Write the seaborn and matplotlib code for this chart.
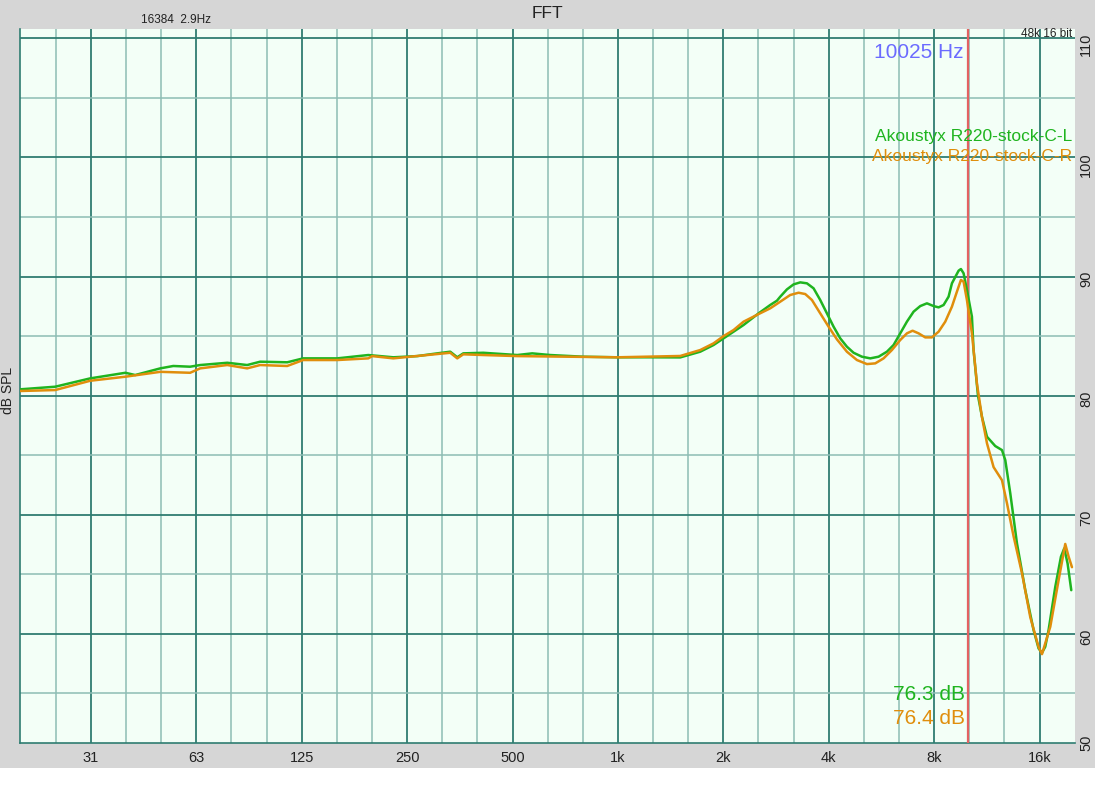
import matplotlib
matplotlib.use("Agg")
import matplotlib.pyplot as plt
import matplotlib.transforms as mtransforms
from matplotlib.patches import Rectangle
from matplotlib.ticker import FixedLocator, NullFormatter
import seaborn as sns
import pandas as pd

# Akoustyx R220 - canal esquerdo (verde)
left_hz = [19.6, 24.7, 31.1, 39.2, 41.8, 49.3, 53.7, 60.0, 64.1, 76.6,
           87.3, 95.1, 113.6, 126.2, 157.9, 193.6, 228.2, 267.1, 304.8, 331.9,
           347.6, 361.6, 412.3, 515.7, 569.1, 640.6, 795.9, 995.4, 1237, 1506,
           1718, 1875, 2003, 2139, 2284, 2522, 2722, 2845, 2908, 3038,
           3174, 3316, 3465, 3620, 3782, 3952, 4129, 4314, 4507, 4710,
           4975, 5256, 5552, 5864, 6126, 6401, 6688, 6988, 7301, 7629,
           7970, 8237, 8512, 8797, 8992, 9395, 9540, 9709, 9924, 10256,
           10367, 10672, 10955, 11323, 11956, 12497, 12771, 13198, 13791, 14566,
           15384, 15898, 16257, 16610, 16978, 17743, 18418, 18822, 19237, 19710]
left_db = [80.53, 80.75, 81.45, 81.92, 81.73, 82.29, 82.49, 82.43, 82.57, 82.76,
           82.57, 82.85, 82.80, 83.13, 83.13, 83.41, 83.22, 83.32, 83.55, 83.69,
           83.22, 83.55, 83.60, 83.41, 83.55, 83.41, 83.27, 83.22, 83.22, 83.21,
           83.69, 84.25, 84.81, 85.37, 85.93, 86.91, 87.61, 87.97, 88.31, 88.92,
           89.34, 89.51, 89.43, 89.01, 88.03, 86.91, 85.79, 84.81, 84.11, 83.60,
           83.27, 83.13, 83.27, 83.69, 84.25, 85.23, 86.21, 87.05, 87.52, 87.75,
           87.52, 87.41, 87.61, 88.31, 89.43, 90.49, 90.63, 90.27, 88.87, 86.63,
           83.83, 80.00, 78.23, 76.55, 75.77, 75.43, 74.59, 71.80, 67.60, 63.67,
           60.32, 58.78, 58.41, 58.92, 60.32, 63.95, 66.48, 67.18, 65.92, 63.67]

# canal direito (laranja)
right_hz = [19.6, 24.7, 31.1, 39.2, 49.3, 60.0, 64.1, 76.6, 87.3, 95.1,
            113.6, 126.2, 157.9, 193.6, 198.7, 228.2, 331.9, 347.6, 361.6, 412.3,
            515.7, 995.4, 1506, 1718, 1875, 2003, 2139, 2284, 2522, 2722,
            2908, 3105, 3280, 3427, 3581, 3782, 3996, 4220, 4507, 4814,
            5142, 5431, 5737, 6060, 6401, 6688, 6942, 7222, 7546, 7883,
            8237, 8606, 8992, 9292, 9540, 9709, 9924, 10256, 10601, 10955,
            11323, 11826, 12497, 12916, 13486, 14252, 15054, 15898, 16257, 17170,
            18132, 18946, 19362, 19801]
right_db = [80.39, 80.47, 81.25, 81.59, 82.00, 81.92, 82.29, 82.57, 82.29, 82.57,
            82.49, 82.99, 82.99, 83.13, 83.32, 83.13, 83.60, 83.13, 83.47, 83.41,
            83.32, 83.22, 83.33, 83.83, 84.39, 85.00, 85.51, 86.21, 86.85, 87.33,
            87.89, 88.45, 88.64, 88.53, 88.03, 86.91, 85.79, 84.73, 83.69, 82.99,
            82.65, 82.71, 83.13, 83.83, 84.67, 85.23, 85.45, 85.23, 84.89, 84.89,
            85.37, 86.21, 87.47, 88.73, 89.71, 89.57, 88.03, 85.23, 81.00, 78.20,
            76.00, 74.00, 72.90, 70.96, 68.20, 65.10, 61.40, 58.90, 58.30, 60.60,
            64.50, 67.55, 66.50, 65.60]

series_names = ["Akoustyx R220-stock-C-L", "Akoustyx R220-stock-C-R"]
level_labels = ["76.3 dB", "76.4 dB"]
cursor_hz = 10025

x_ticks = [31.25, 62.5, 125, 250, 500, 1000, 2000, 4000, 8000, 16000]
x_tick_labels = ["31", "63", "125", "250", "500", "1k", "2k", "4k", "8k", "16k"]
x_third_oct = [1000 * 2 ** (k / 3) for k in range(-16, 13) if k % 3 != 0]
y_ticks = [60, 70, 80, 90, 100, 110]
y_minor = [55, 65, 75, 85, 95, 105]

green = "#1fb41f"
orange = "#e08e0c"
grid_dark = "#2f7d71"
grid_light = "#8dbdb4"

sns.set_style("white")
plt.rcParams["font.family"] = ["Liberation Sans", "DejaVu Sans"]

W, H = 1095, 800
fig = plt.figure(figsize=(W / 100, H / 100), dpi=100)
fig.patch.set_facecolor("white")
fig.add_artist(Rectangle((0, 32 / H), 1, 1 - 32 / H, transform=fig.transFigure,
                         facecolor="#d6d6d6", edgecolor="none", zorder=-10))


def px(x, y):
    return x / W, 1 - y / H


ax = fig.add_axes([20 / W, 57 / H, 1055 / W, 714 / H])
ax.set_facecolor("#f3fff7")

df_l = pd.DataFrame({"Hz": left_hz, "dB": left_db})
df_r = pd.DataFrame({"Hz": right_hz, "dB": right_db})
sns.lineplot(data=df_l, x="Hz", y="dB", color=green, lw=1.8, ax=ax,
             estimator=None, sort=False, zorder=5, solid_joinstyle="round")
sns.lineplot(data=df_r, x="Hz", y="dB", color=orange, lw=1.8, ax=ax,
             estimator=None, sort=False, zorder=6, solid_joinstyle="round")

ax.set_xscale("log")
ax.set_xlim(19.6, 20200)
ax.set_ylim(50.84, 110.78)

# grade: oitavas e 10 dB escuras, terços e 5 dB claras
ax.xaxis.set_major_locator(FixedLocator(x_ticks))
ax.set_xticklabels(x_tick_labels)
ax.xaxis.set_minor_locator(FixedLocator(x_third_oct))
ax.xaxis.set_minor_formatter(NullFormatter())
ax.yaxis.set_major_locator(FixedLocator(y_ticks))
ax.yaxis.set_minor_locator(FixedLocator(y_minor))
ax.grid(which="major", color=grid_dark, lw=1.3, zorder=1)
ax.grid(which="minor", color=grid_light, lw=1.1, zorder=1)
ax.set_axisbelow(True)

ax.set_xlabel("")
ax.set_ylabel("")
ax.tick_params(axis="x", which="both", length=0, pad=6, labelsize=10.5, colors="#222222")
ax.tick_params(axis="y", which="both", length=0, pad=3, labelsize=10.5, colors="#222222",
               left=False, labelleft=False, labelright=True, labelrotation=90)
for side in ["left", "bottom"]:
    ax.spines[side].set_color(grid_dark)
    ax.spines[side].set_linewidth(1.2)
ax.spines["top"].set_visible(False)
ax.spines["right"].set_visible(False)

# "50" fica no limite inferior
off = mtransforms.offset_copy(ax.transAxes, fig=fig, x=3, y=0, units="points")
ax.text(1.0, 0.0, "50", transform=off, rotation=90, ha="left", va="center",
        fontsize=10.5, color="#222222")

# cursor
ax.axvline(cursor_hz, color="#e36262", lw=1.6, zorder=4)

# textos
fig.text(*px(547, 14), "FFT", ha="center", va="center", fontsize=12.5, color="#222222")
fig.text(*px(176, 20), "16384  2.9Hz", ha="center", va="center", fontsize=8.5, color="#222222")
fig.text(*px(1072, 34), "48k 16 bit", ha="right", va="center", fontsize=8.5, color="#222222")
fig.text(*px(8, 390), "dB SPL", ha="center", va="center", rotation=90, fontsize=10, color="#222222")
fig.text(*px(964, 52), f"{cursor_hz} Hz", ha="right", va="center", fontsize=15, color="#6b6bff")
fig.text(*px(1072, 137), series_names[0], ha="right", va="center", fontsize=12.5, color=green)
fig.text(*px(1072, 156), series_names[1], ha="right", va="center", fontsize=12.5, color=orange)
fig.text(*px(965, 695), level_labels[0], ha="right", va="center", fontsize=15, color=green)
fig.text(*px(965, 718), level_labels[1], ha="right", va="center", fontsize=15, color=orange)

fig.savefig("out.png", dpi=100)
